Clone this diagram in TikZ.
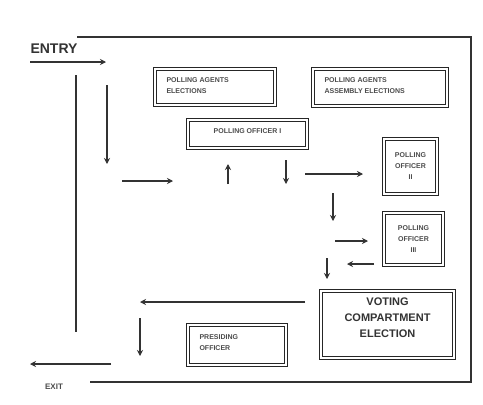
\documentclass[tikz,border=0pt]{standalone}
\usepackage{fontspec}
\setmainfont{Liberation Sans}
\usetikzlibrary{arrows.meta}
\begin{document}
\begin{tikzpicture}[x=1pt,y=-1pt,
  wall/.style={line width=2pt,draw=black!80},
  flow/.style={line width=1.8pt,draw=black!80,-{Stealth[length=6pt,width=6pt]}},
  room/.style={draw=black!85,double=white,double distance=1.3pt,line width=1.1pt,inner sep=0pt},
  small/.style={font=\bfseries\fontsize{7}{11}\selectfont,text=black!70}]
\useasboundingbox (0,0) rectangle (483,405);
\fill[white] (0,0) rectangle (483,405);
% outer frame
\coordinate (f1) at (77,37);
\coordinate (f2) at (471,37);
\coordinate (f3) at (471,382);
\coordinate (f4) at (90,382);
\draw[wall] (f1) -- (f2) -- (f3) -- (f4);
% left wall
\coordinate (w1) at (76,75);
\coordinate (w2) at (76,332);
\draw[wall] (w1) -- (w2);
% texts
\node[font=\bfseries\fontsize{14}{16}\selectfont,text=black!80] (entry) at (54,49) {ENTRY};
\node[font=\bfseries\fontsize{8}{10}\selectfont,text=black!70] (exit) at (54,387) {EXIT};
% rooms
\draw[room] (155,69) rectangle (275,105);
\node[small,align=left,anchor=north west] (pae) at (163,74) {POLLING AGENTS\\ELECTIONS};
\draw[room] (313,69) rectangle (447,106);
\node[small,align=left,anchor=north west] (paa) at (321,74) {POLLING AGENTS\\ASSEMBLY ELECTIONS};
\draw[room] (188,120) rectangle (307,148);
\node[small] (po1) at (247.5,131) {POLLING OFFICER I};
\draw[room] (384,139) rectangle (437,194);
\node[small,align=center] (po2) at (410.5,166) {POLLING\\OFFICER\\II};
\draw[room] (384,213) rectangle (443,265);
\node[small,align=center] (po3) at (413.5,239) {POLLING\\OFFICER\\III};
\draw[room] (321,291) rectangle (454,358);
\node[font=\bfseries\fontsize{11}{16}\selectfont,text=black!80,align=center] (vc) at (387.5,318) {VOTING\\COMPARTMENT\\ELECTION};
\draw[room] (188,325) rectangle (286,365);
\node[small,align=left,anchor=north west] (pr) at (196,331) {PRESIDING\\OFFICER};
% flow arrows
\coordinate (a1s) at (30,62);   \coordinate (a1e) at (106,62);
\coordinate (a2s) at (107,85);  \coordinate (a2e) at (107,164);
\coordinate (a3s) at (122,181); \coordinate (a3e) at (173,181);
\coordinate (a4s) at (228,184); \coordinate (a4e) at (228,164);
\coordinate (a5s) at (286,160); \coordinate (a5e) at (286,184);
\coordinate (a6s) at (305,174); \coordinate (a6e) at (363,174);
\coordinate (a7s) at (333,193); \coordinate (a7e) at (333,221);
\coordinate (a8s) at (335,241); \coordinate (a8e) at (368,241);
\coordinate (a9s) at (374,264); \coordinate (a9e) at (347,264);
\coordinate (a10s) at (327,258); \coordinate (a10e) at (327,279);
\coordinate (a11s) at (305,302); \coordinate (a11e) at (140,302);
\coordinate (a12s) at (140,318); \coordinate (a12e) at (140,356);
\coordinate (a13s) at (111,364); \coordinate (a13e) at (30,364);
\foreach \i in {1,...,13} \draw[flow] (a\i s) -- (a\i e);
\end{tikzpicture}
\end{document}
